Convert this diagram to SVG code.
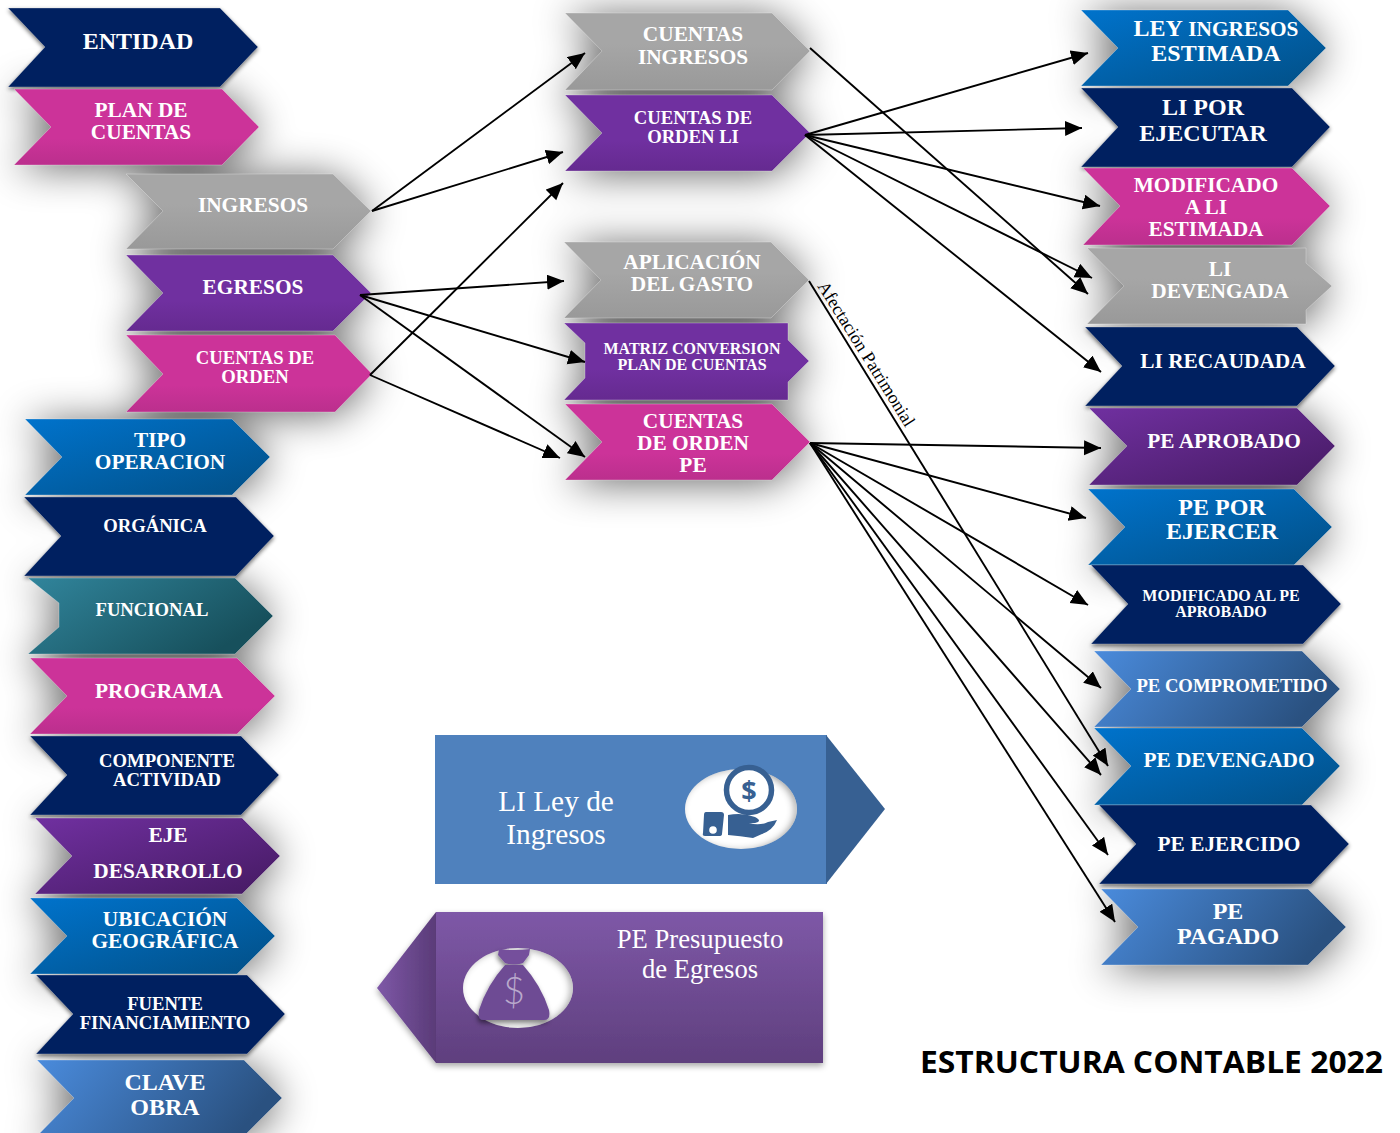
<svg xmlns="http://www.w3.org/2000/svg" width="1400" height="1133" viewBox="0 0 1400 1133">
<style>
text{font-family:"Liberation Serif","Times New Roman",serif;fill:#fff;text-anchor:middle}
.n text{font-weight:bold;font-size:21.33px}
.n .l{font-size:24px}
.n .m{font-size:18.67px}
.n .s{font-size:16px}
.navy{fill:#002060}
.mag{fill:url(#gMag)}
.gray{fill:url(#gGray)}
.pur{fill:url(#gPur)}
.blue{fill:url(#gBlue)}
.teal{fill:url(#gTeal)}
.sky{fill:url(#gSky)}
.dpur{fill:url(#gDPur)}
.n polygon{stroke:#fff;stroke-opacity:.28;stroke-width:1}
#connectors line{stroke:#000;stroke-width:1.9;marker-end:url(#arrow)}
</style>
<defs>
<linearGradient id="gMag" x1="0" y1="0" x2="0" y2="1"><stop offset=".65" stop-color="#cc3399"/><stop offset="1" stop-color="#bb2f8d"/></linearGradient>
<linearGradient id="gGray" x1="0" y1="0" x2="0" y2="1"><stop offset=".4" stop-color="#a6a6a6"/><stop offset="1" stop-color="#999"/></linearGradient>
<linearGradient id="gPur" x1="0" y1="0" x2="0" y2="1"><stop offset=".6" stop-color="#7030a0"/><stop offset="1" stop-color="#652a90"/></linearGradient>
<linearGradient id="gBlue" x1="0" y1="0" x2="1" y2="1"><stop offset="0" stop-color="#0073cc"/><stop offset="1" stop-color="#024f86"/></linearGradient>
<linearGradient id="gTeal" x1="0" y1="0" x2="1" y2=".5"><stop offset="0" stop-color="#31859c"/><stop offset="1" stop-color="#17505c"/></linearGradient>
<linearGradient id="gSky" x1="0" y1="0" x2="1" y2=".25"><stop offset="0" stop-color="#4a8bdc"/><stop offset="1" stop-color="#2a5180"/></linearGradient>
<linearGradient id="gDPur" x1="0" y1="0" x2="1" y2="1"><stop offset="0" stop-color="#7030a0"/><stop offset="1" stop-color="#451a62"/></linearGradient>
<linearGradient id="gBox" x1="0" y1="0" x2="0" y2="1"><stop offset="0" stop-color="#7e58a7"/><stop offset="1" stop-color="#5f3f7e"/></linearGradient>
<linearGradient id="gTip" x1="0" y1="0" x2="1" y2="0"><stop offset="0" stop-color="#7e58a7"/><stop offset="1" stop-color="#5a3b78"/></linearGradient>
<filter id="wide" filterUnits="userSpaceOnUse" x="-100" y="-100" width="1600" height="1340"><feGaussianBlur in="SourceAlpha" stdDeviation="20"/><feOffset dy="3"/><feComponentTransfer><feFuncA type="linear" slope=".6"/></feComponentTransfer></filter>
<filter id="tight" filterUnits="userSpaceOnUse" x="-100" y="-100" width="1600" height="1340"><feGaussianBlur in="SourceAlpha" stdDeviation="2"/><feOffset dy="2"/><feComponentTransfer><feFuncA type="linear" slope=".55"/></feComponentTransfer></filter>
<filter id="inner" x="-5%" y="-5%" width="110%" height="110%"><feComponentTransfer in="SourceAlpha" result="inv"><feFuncA type="table" tableValues="1 0"/></feComponentTransfer><feGaussianBlur in="inv" stdDeviation="3.5" result="b"/><feOffset in="b" dx="-3" dy="1" result="o"/><feFlood flood-color="#000" flood-opacity=".65"/><feComposite in2="o" operator="in"/><feComposite in2="SourceAlpha" operator="in" result="s"/><feMerge><feMergeNode in="SourceGraphic"/><feMergeNode in="s"/></feMerge></filter>
<filter id="boxsh" x="-10%" y="-10%" width="120%" height="125%"><feDropShadow dx="0" dy="3" stdDeviation="3" flood-color="#000" flood-opacity=".35"/></filter>
<filter id="bagsh" x="-20%" y="-20%" width="140%" height="140%"><feDropShadow dx="-1" dy="3" stdDeviation="2.5" flood-color="#000" flood-opacity=".5"/></filter>
<marker id="arrow" markerUnits="userSpaceOnUse" markerWidth="18" markerHeight="16" refX="17" refY="7.5" orient="auto"><path d="M0 0L17 7.5L0 15Z" fill="#000"/></marker>
</defs>
<rect width="1400" height="1133" fill="#fff"/>
<g id="shadows-wide" filter="url(#wide)">
<use href="#p-plan"/><use href="#p-ing"/><use href="#p-egr"/><use href="#p-cdo"/>
<use href="#p-tipo"/><use href="#p-fun"/><use href="#p-pro"/><use href="#p-eje"/><use href="#p-ubi"/><use href="#p-cla"/>
<use href="#p-cing"/><use href="#p-cli"/><use href="#p-apl"/><use href="#p-mat"/><use href="#p-cpe"/>
<use href="#p-ley"/><use href="#p-mod"/><use href="#p-dev"/><use href="#p-apr"/><use href="#p-por"/><use href="#p-com"/><use href="#p-pdv"/><use href="#p-pag"/>
</g>
<g id="shadows-tight" filter="url(#tight)">
<use href="#p-ent"/><use href="#p-org"/><use href="#p-cmp"/><use href="#p-fue"/><use href="#p-lip"/><use href="#p-rec"/><use href="#p-mpe"/><use href="#p-pej"/>
</g>

<g id="entidad" class="n"><polygon id="p-ent" class="navy" points="8,8 220,8 258,47 220,87 8,87 45,47"/><text x="138" y="49" class="l">ENTIDAD</text></g>
<g id="plan-cuentas" class="n"><polygon id="p-plan" class="mag" points="14,89 222,89 259,127 222,165 14,165 51,127"/><text x="141" y="117">PLAN DE</text><text x="141" y="139">CUENTAS</text></g>
<g id="ingresos" class="n"><polygon id="p-ing" class="gray" points="126,174 333,174 371,211 333,249 126,249 163,211"/><text x="253" y="212">INGRESOS</text></g>
<g id="egresos" class="n"><polygon id="p-egr" class="pur" points="126,255 333,255 371,293 333,331 126,331 163,293"/><text x="253" y="294">EGRESOS</text></g>
<g id="cuentas-orden" class="n"><polygon id="p-cdo" class="mag" points="126,335 335,335 372,374 335,412 126,412 163,374"/><text x="255" y="364" class="m">CUENTAS DE</text><text x="255" y="383" class="m">ORDEN</text></g>
<g id="tipo-operacion" class="n"><polygon id="p-tipo" class="blue" points="25,419 232,419 270,457 232,495 25,495 62,457"/><text x="160" y="447">TIPO</text><text x="160" y="469">OPERACION</text></g>
<g id="organica" class="n"><polygon id="p-org" class="navy" points="24,497 236,497 274,536 236,576 24,576 61,536"/><text x="155" y="532" class="m">ORGÁNICA</text></g>
<g id="funcional" class="n"><polygon id="p-fun" class="teal" points="28,578 235,578 273,616 235,654 28,654 59,627 59,603"/><text x="152" y="616" class="m">FUNCIONAL</text></g>
<g id="programa" class="n"><polygon id="p-pro" class="mag" points="30,658 237,658 275,696 237,734 30,734 67,696"/><text x="159" y="698">PROGRAMA</text></g>
<g id="componente" class="n"><polygon id="p-cmp" class="navy" points="30,736 241,736 279,775 241,815 30,815 67,775"/><text x="167" y="767" class="m">COMPONENTE</text><text x="167" y="786" class="m">ACTIVIDAD</text></g>
<g id="eje" class="n"><polygon id="p-eje" class="dpur" points="35,818 242,818 280,856 242,894 35,894 72,856"/><text x="168" y="842">EJE</text><text x="168" y="878">DESARROLLO</text></g>
<g id="ubicacion" class="n"><polygon id="p-ubi" class="blue" points="30,898 237,898 275,936 237,974 30,974 67,936"/><text x="165" y="926">UBICACIÓN</text><text x="165" y="948">GEOGRÁFICA</text></g>
<g id="fuente" class="n"><polygon id="p-fue" class="navy" points="36,975 247,975 285,1014 247,1054 36,1054 73,1014"/><text x="165" y="1010" class="m">FUENTE</text><text x="165" y="1029" class="m">FINANCIAMIENTO</text></g>
<g id="clave-obra" class="n"><polygon id="p-cla" class="sky" points="37,1060 244,1060 282,1098 244,1136 37,1136 74,1098"/><text x="165" y="1090" class="l">CLAVE</text><text x="165" y="1115" class="l">OBRA</text></g>

<g id="cuentas-ingresos" class="n"><polygon id="p-cing" class="gray" points="565,13 772,13 810,51 772,90 565,90 602,51"/><text x="693" y="41">CUENTAS</text><text x="693" y="64">INGRESOS</text></g>
<g id="cuentas-orden-li" class="n"><polygon id="p-cli" class="pur" points="565,95 772,95 810,133 772,171 565,171 602,133"/><text x="693" y="124" class="m">CUENTAS DE</text><text x="693" y="143" class="m">ORDEN LI</text></g>
<g id="aplicacion" class="n"><polygon id="p-apl" class="gray" points="564,242 771,242 809,280 771,318 564,318 601,280"/><text x="692" y="269">APLICACIÓN</text><text x="692" y="291">DEL GASTO</text></g>
<g id="matriz" class="n"><polygon id="p-mat" class="pur" points="564,323 788,323 788,340 809,361 788,382 788,400 564,400 585,378 585,343"/><text x="692" y="354" class="s">MATRIZ CONVERSION</text><text x="692" y="370" class="s">PLAN DE CUENTAS</text></g>
<g id="cuentas-orden-pe" class="n"><polygon id="p-cpe" class="mag" points="565,404 772,404 810,442 772,480 565,480 602,442"/><text x="693" y="428">CUENTAS</text><text x="693" y="450">DE ORDEN</text><text x="693" y="472">PE</text></g>

<g id="ley-ingresos" class="n"><polygon id="p-ley" class="blue" points="1081,10 1288,10 1326,48 1288,86 1081,86 1118,48"/><text x="1216" y="36"><tspan class="l">LEY</tspan> INGRESOS</text><text x="1216" y="61" class="l">ESTIMADA</text></g>
<g id="li-ejecutar" class="n"><polygon id="p-lip" class="navy" points="1081,88 1292,88 1330,127 1292,167 1081,167 1118,127"/><text x="1203" y="115" class="l">LI POR</text><text x="1203" y="141" class="l">EJECUTAR</text></g>
<g id="modificado-li" class="n"><polygon id="p-mod" class="mag" points="1083,168 1292,168 1330,206 1292,245 1083,245 1120,206"/><text x="1206" y="192">MODIFICADO</text><text x="1206" y="214">A LI</text><text x="1206" y="236">ESTIMADA</text></g>
<g id="li-devengada" class="n"><polygon id="p-dev" class="gray" points="1087,248 1306,248 1306,263 1332,286 1306,310 1306,324 1087,324 1124,286"/><text x="1220" y="276">LI</text><text x="1220" y="298">DEVENGADA</text></g>
<g id="li-recaudada" class="n"><polygon id="p-rec" class="navy" points="1085,327 1297,327 1335,366 1297,406 1085,406 1122,366"/><text x="1223" y="368">LI RECAUDADA</text></g>
<g id="pe-aprobado" class="n"><polygon id="p-apr" class="dpur" points="1089,408 1297,408 1335,446 1297,485 1089,485 1127,446"/><text x="1224" y="448">PE APROBADO</text></g>
<g id="pe-ejercer" class="n"><polygon id="p-por" class="blue" points="1088,489 1294,489 1332,527 1294,565 1088,565 1125,527"/><text x="1222" y="515" class="l">PE POR</text><text x="1222" y="539" class="l">EJERCER</text></g>
<g id="modificado-pe" class="n"><polygon id="p-mpe" class="navy" points="1091,565 1303,565 1341,604 1303,644 1091,644 1128,604"/><text x="1221" y="601" class="s">MODIFICADO AL PE</text><text x="1221" y="617" class="s">APROBADO</text></g>
<g id="pe-comprometido" class="n"><polygon id="p-com" class="sky" points="1094,651 1302,651 1340,689 1302,727 1094,727 1131,689"/><text x="1232" y="692" class="m">PE COMPROMETIDO</text></g>
<g id="pe-devengado" class="n"><polygon id="p-pdv" class="blue" points="1094,728 1302,728 1340,766 1302,805 1094,805 1131,766"/><text x="1229" y="767">PE DEVENGADO</text></g>
<g id="pe-ejercido" class="n"><polygon id="p-pej" class="navy" points="1099,805 1311,805 1349,844 1311,884 1099,884 1136,844"/><text x="1229" y="851">PE EJERCIDO</text></g>
<g id="pe-pagado" class="n"><polygon id="p-pag" class="sky" points="1101,889 1308,889 1346,927 1308,965 1101,965 1138,927"/><text x="1228" y="919" class="l">PE</text><text x="1228" y="944" class="l">PAGADO</text></g>

<g id="legend-li">
<rect x="435" y="735" width="392" height="149" fill="#4f81bd"/>
<polygon points="826,735 885,809 826,884" fill="#376092"/>
<text x="556" y="811" style="font-size:29.33px">LI Ley de</text>
<text x="556" y="844" style="font-size:29.33px">Ingresos</text>
<ellipse cx="741" cy="809" rx="56" ry="40" fill="#fff" filter="url(#inner)"/>
<circle cx="749" cy="790" r="22.5" fill="#fff" stroke="#376092" stroke-width="5.5"/>
<text x="749" y="800" style="font-family:'Open Sans','Liberation Sans',sans-serif;font-weight:bold;font-size:27px;fill:#376092">$</text>
<path d="M706 812L721 812Q724 812 724 815L722 834Q722 836 719 836L705 836Q702 836 703 833L704 815Q704 812 706 812Z" fill="#376092"/>
<circle cx="713" cy="830" r="3.8" fill="#fff"/>
<path d="M728 815Q742 812 755 817Q761 820 758 822Q754 824 748 823Q760 826 768 822L777 820Q773 830 762 834L753 838Q740 836 728 835Z" fill="#376092"/>
</g>
<g id="legend-pe">
<g filter="url(#boxsh)">
<rect x="436" y="912" width="387" height="151" fill="url(#gBox)"/>
<polygon points="436,912 377,988 436,1063" fill="url(#gTip)"/>
</g>
<text x="700" y="948" style="font-size:26.67px">PE Presupuesto</text>
<text x="700" y="978" style="font-size:26.67px">de Egresos</text>
<ellipse cx="518" cy="988" rx="55" ry="40" fill="#fff" filter="url(#inner)"/>
<g filter="url(#bagsh)">
<path d="M505 965Q487 985 479 1010Q477 1020 484 1020L544 1020Q551 1020 549 1010Q541 985 523 965Z" fill="#6e4c94"/>
<path d="M499 949Q514 951 530 949L529 955L523 963Q514 966 505 963L498 955Z" fill="#74509c"/>
</g>
<text x="514" y="1004" style="font-family:'Lato','Open Sans',sans-serif;font-weight:300;font-size:38px;fill:#b9a9cc">$</text>
</g>

<g id="connectors">
<line x1="372" y1="211" x2="585" y2="53"/>
<line x1="372" y1="211" x2="563" y2="152"/>
<line x1="360" y1="295" x2="564" y2="281"/>
<line x1="360" y1="295" x2="585" y2="362"/>
<line x1="360" y1="295" x2="585" y2="457"/>
<line x1="370" y1="375" x2="563" y2="183"/>
<line x1="370" y1="375" x2="560" y2="458"/>
<line x1="810" y1="48" x2="1088" y2="294"/>
<line x1="805" y1="135" x2="1088" y2="53"/>
<line x1="805" y1="135" x2="1082" y2="128"/>
<line x1="805" y1="135" x2="1100" y2="206"/>
<line x1="805" y1="135" x2="1092" y2="278"/>
<line x1="805" y1="135" x2="1101" y2="372"/>
<line x1="809" y1="281" x2="1108" y2="766"/>
<line x1="810" y1="443" x2="1101" y2="448"/>
<line x1="810" y1="443" x2="1086" y2="518"/>
<line x1="810" y1="443" x2="1088" y2="605"/>
<line x1="810" y1="443" x2="1101" y2="688"/>
<line x1="810" y1="443" x2="1101" y2="775"/>
<line x1="810" y1="443" x2="1108" y2="855"/>
<line x1="810" y1="443" x2="1115" y2="922"/>
</g>
<text transform="translate(817,286) rotate(58)" style="fill:#000;font-size:18px;text-anchor:start">Afectación Patrimonial</text>
<text x="1151.5" y="1073" textLength="463" lengthAdjust="spacingAndGlyphs" style="font-family:'Open Sans','Liberation Sans',sans-serif;font-weight:bold;font-size:31px;fill:#000">ESTRUCTURA CONTABLE 2022</text>
</svg>
